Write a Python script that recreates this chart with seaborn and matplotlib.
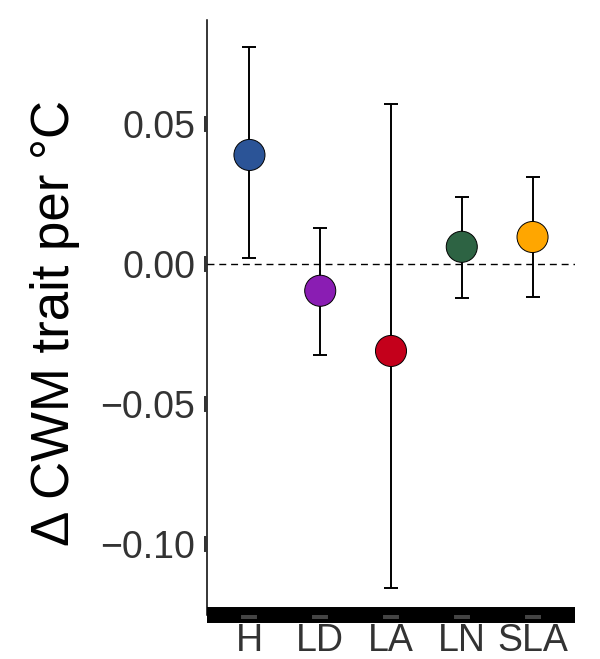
import pandas as pd
import matplotlib.pyplot as plt
import seaborn as sns

# values
traits = ['H', 'LD', 'LA', 'LN', 'SLA']
estimate = [0.0389, -0.0096, -0.0311, 0.0061, 0.0096]
upper = [0.0775, 0.0129, 0.0571, 0.0239, 0.0311]
lower = [0.0021, -0.0325, -0.1157, -0.0121, -0.0118]
colours = ['#2B5497', '#8A1DB3', '#C4001B', '#2D6343', '#FFA600']

df = pd.DataFrame({'trait': traits, 'est': estimate, 'hi': upper, 'lo': lower})

sns.set_style('white')
plt.rcParams['font.family'] = ['Liberation Sans', 'DejaVu Sans']

fig = plt.figure(figsize=(6, 6.59), dpi=100)
ax = fig.add_axes([207 / 600, 44 / 659, 368 / 600, 595 / 659])

ax.axhline(0, color='black', lw=1.0, ls=(0, (5, 3.5)), zorder=1)

xpos = list(range(len(traits)))
ax.errorbar(xpos, df['est'],
            yerr=[df['est'] - df['lo'], df['hi'] - df['est']],
            fmt='none', ecolor='black', elinewidth=1.4, capsize=5.3,
            capthick=1.4, zorder=2)

sns.scatterplot(data=df, x='trait', y='est', hue='trait', palette=colours,
                s=500, edgecolor='black', linewidth=0.7, legend=False,
                ax=ax, zorder=3)

ax.set_xlim(-0.6, 4.6)
ax.set_ylim(-0.1254, 0.0871)
ax.set_yticks([-0.10, -0.05, 0.00, 0.05])
ax.set_yticklabels(['\u22120.10', '\u22120.05', '0.00', '0.05'])
ax.set_xticks(xpos)
ax.set_xticklabels(traits)

for s in ['top', 'right']:
    ax.spines[s].set_visible(False)
ax.spines['left'].set_linewidth(1.1)
ax.spines['left'].set_color('black')
ax.spines['bottom'].set_linewidth(11.5)
ax.spines['bottom'].set_color('black')
ax.spines['bottom'].set_capstyle('butt')

ax.tick_params(axis='x', bottom=True, direction='out', length=3, width=11.5,
               color='#444444', labelsize=27, labelcolor='#333333', pad=3)
ax.tick_params(axis='y', left=True, direction='out', length=2.5, width=11.5,
               color='#333333', labelsize=27, labelcolor='#333333', pad=6)
# grey tick dashes sit on top of the thick x axis bar
ax.xaxis.set_zorder(4)
ax.yaxis.set_zorder(4)

ax.set_xlabel('')
ax.set_ylabel('\u0394 CWM trait per \u00b0C', fontsize=38, color='black')
ax.yaxis.set_label_coords(-0.345, 0.49)
ax.grid(False)

fig.savefig('out.png', dpi=100)
